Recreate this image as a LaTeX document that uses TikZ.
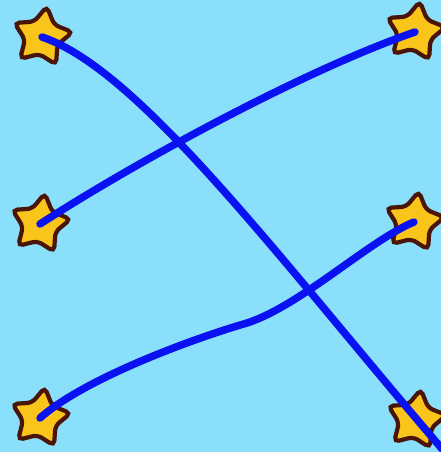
\documentclass[tikz,border=0pt]{standalone}
\usetikzlibrary{shapes.geometric}
\definecolor{Sky}{HTML}{8AE0FA}
\definecolor{Gold}{HTML}{F9C51A}
\definecolor{Umber}{HTML}{4A1408}
\definecolor{Marker}{HTML}{0A12F2}
\tikzset{
  sticker/.style={
    star, star points=5, star point ratio=1.8, minimum size=62pt,
    inner sep=0pt, fill=Gold, draw=Umber, line width=4.2pt,
    rounded corners=5pt, rotate=-9
  },
  scribble/.style={draw=Marker, line width=7.5pt, line cap=round, line join=round}
}
\begin{document}
\begin{tikzpicture}[x=1pt,y=-1pt]
    \fill[Sky] (0,0) rectangle (441,452);
    \useasboundingbox (0,0) rectangle (441,452);
    \node[sticker] (topL) at (42,37) {};
    \node[sticker] (topR) at (415,32) {};
    \node[sticker] (midL) at (40,224) {};
    \node[sticker] (midR) at (414,222) {};
    \node[sticker] (botL) at (40,418) {};
    \node[sticker] (botR) at (416,420) {};
    \coordinate (corner) at (443,450);
    \draw[scribble] (topL.center) .. controls (140,70) and (280,260) .. (corner);
    \draw[scribble] (midL.center) .. controls (142,158) and (310,68) .. (topR.center);
    \draw[scribble] (botL.center) .. controls (85,378) and (195,338) .. (247,323)
      .. controls (300,306) and (370,240) .. (midR.center);
  \end{tikzpicture}
\end{document}
